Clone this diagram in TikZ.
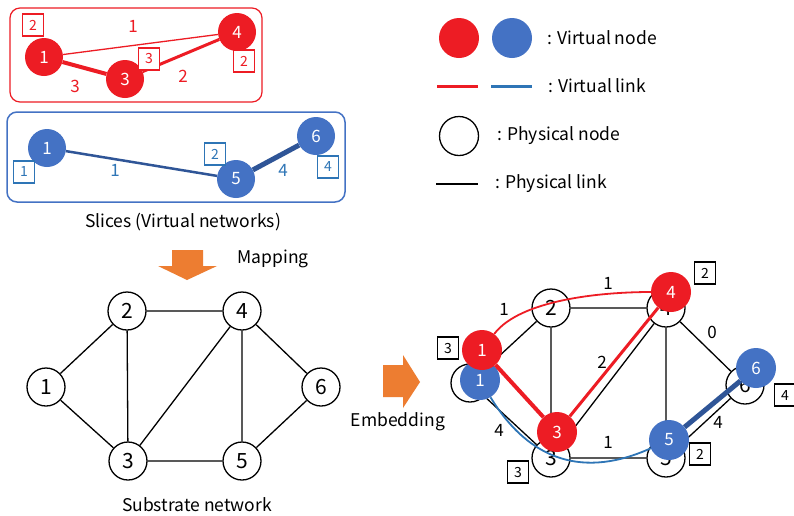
\documentclass[tikz,border=0pt]{standalone}
\usepackage{fontspec}
\setmainfont{Noto Sans CJK JP}
\newcommand\fsz[1]{\fontsize{#1}{#1}\selectfont}
\definecolor{vred}{RGB}{237,28,36}
\definecolor{vblue}{RGB}{68,114,196}
\definecolor{lblue}{RGB}{46,117,182}
\definecolor{dblue}{RGB}{47,85,151}
\definecolor{aorange}{RGB}{237,125,49}
\tikzset{
  vnode/.style={circle, minimum size=38pt, inner sep=0pt, text=white, font=\fsz{17}},
  pnode/.style={circle, draw, line width=1.3pt, fill=white, minimum size=38pt, inner sep=0pt, font=\fsz{21}},
  sqbox/.style={draw, fill=white, minimum width=21pt, minimum height=22pt, inner sep=0pt, font=\fsz{14}},
  lbl/.style={font=\fsz{17}, inner sep=1pt},
  txt/.style={font=\fsz{17.5}, inner sep=0pt},
  plink/.style={line width=1.3pt, black},
}
\begin{document}
\begin{tikzpicture}[x=1pt,y=-1pt]
\useasboundingbox (0,0) rectangle (794,515);
\fill[white] (0,0) rectangle (794,515);

% ---------- red slice ----------
\draw[vred, line width=1.2pt, rounded corners=10pt] (10,8) rectangle (262,102);
\node[vnode, fill=vred] (r1) at (44,57) {1};
\node[vnode, fill=vred] (r3) at (125,79) {3};
\node[vnode, fill=vred] (r4) at (237,32) {4};
\draw[vred, line width=1.3pt] (r1) -- (r4);
\draw[vred, line width=4pt] (r1) -- (r3);
\draw[vred, line width=3pt] (r3) -- (r4);
\node[lbl, text=vred] (rl1) at (133,26) {1};
\node[lbl, text=vred] (rl2) at (75,86) {3};
\node[lbl, text=vred] (rl3) at (183,76) {2};
\node[sqbox, draw=vred, text=vred, line width=1.3pt] (rs1) at (33,25) {2};
\node[sqbox, draw=vred, text=vred, line width=1.3pt] (rs2) at (149,59) {3};
\node[sqbox, draw=vred, text=vred, line width=1.3pt] (rs3) at (244,61) {2};

% ---------- blue slice ----------
\draw[vblue, line width=1.5pt, rounded corners=10pt] (7,112) rectangle (345,202);
\node[vnode, fill=vblue] (b1) at (47,148) {1};
\node[vnode, fill=vblue] (b5) at (236,179) {5};
\node[vnode, fill=vblue] (b6) at (316,136) {6};
\draw[dblue, line width=2.5pt] (b1) -- (b5);
\draw[dblue, line width=5pt] (b5) -- (b6);
\node[lbl, text=lblue] (bl1) at (115,170) {1};
\node[lbl, text=lblue] (bl2) at (283,170) {4};
\node[sqbox, draw=lblue, text=lblue, line width=1.3pt] (bs1) at (24,172) {1};
\node[sqbox, draw=lblue, text=lblue, line width=1.3pt] (bs2) at (215,154) {2};
\node[sqbox, draw=lblue, text=lblue, line width=1.3pt] (bs3) at (328,167) {4};
\node[txt] (cap1) at (183,222) {Slices (Virtual networks)};

% ---------- legend ----------
\node[circle, fill=vred, minimum size=40pt, inner sep=0pt] (lgr) at (459,38) {};
\node[circle, fill=vblue, minimum size=40pt, inner sep=0pt] (lgb) at (512,38) {};
\node[txt, anchor=west] (lgt1) at (547,38) {: Virtual node};
\coordinate (lr1) at (437,86); \coordinate (lr2) at (478,86);
\coordinate (lb1) at (491,86); \coordinate (lb2) at (532,86);
\draw[vred, line width=3pt] (lr1) -- (lr2);
\draw[lblue, line width=3pt] (lb1) -- (lb2);
\node[txt, anchor=west] (lgt2) at (548,86) {: Virtual link};
\node[circle, draw, line width=1.3pt, minimum size=39pt, inner sep=0pt] (lgp) at (459,136) {};
\node[txt, anchor=west] (lgt3) at (497,136) {: Physical node};
\coordinate (lp1) at (436,184); \coordinate (lp2) at (478,184);
\draw[plink] (lp1) -- (lp2);
\node[txt, anchor=west] (lgt4) at (495,184) {: Physical link};

% ---------- mapping arrow ----------
\fill[aorange] (172,250) -- (203,250) -- (203,266) -- (217,266) -- (187,280) -- (158,266) -- (172,266) -- cycle;
\node[txt] (map) at (273,259) {Mapping};

% ---------- substrate ----------
\node[pnode] (s1) at (46,387) {1};
\node[pnode] (s2) at (127,311) {2};
\node[pnode] (s3) at (128,461) {3};
\node[pnode] (s4) at (242,311) {4};
\node[pnode] (s5) at (242,461) {5};
\node[pnode] (s6) at (321,387) {6};
\draw[plink] (s1) -- (s2) (s1) -- (s3) (s2) -- (s3) (s2) -- (s4) (s3) -- (s4)
  (s3) -- (s5) (s4) -- (s5) (s4) -- (s6) (s5) -- (s6);
\node[txt] (cap2) at (197,505) {Substrate network};

% ---------- embedding arrow ----------
\fill[aorange] (383,365) -- (403,365) -- (403,355) -- (420,382) -- (403,408) -- (403,397) -- (383,397) -- cycle;
\node[txt] (emb) at (398,422) {Embedding};

% ---------- embedded ----------
\node[pnode] (e1) at (470,383) {1};
\node[pnode] (e2) at (551,308) {2};
\node[pnode] (e3) at (551,458) {3};
\node[pnode] (e4) at (666,308) {4};
\node[pnode] (e5) at (666,458) {5};
\node[pnode] (e6) at (745,385) {6};
\draw[plink] (e1) -- (e2) (e1) -- (e3) (e2) -- (e3) (e2) -- (e4) (e3) -- (e4)
  (e3) -- (e5) (e4) -- (e5) (e4) -- (e6) (e5) -- (e6);

\node[vnode, fill=vblue, minimum size=40pt] (eb1) at (480,380) {1};
\node[vnode, fill=vred, minimum size=40pt] (er1) at (482,350) {1};
\node[vnode, fill=vred, minimum size=40pt] (er3) at (557,432) {3};
\node[vnode, fill=vred, minimum size=40pt] (er4) at (671,292) {4};
\node[vnode, fill=vblue, minimum size=40pt] (eb5) at (669,440) {5};
\node[vnode, fill=vblue, minimum size=40pt] (eb6) at (756,368) {6};

\draw[vred, line width=1.8pt] (er1) .. controls (520,300) and (600,292) .. (er4);
\draw[vred, line width=4pt] (er1) -- (er3);
\draw[vred, line width=3pt] (er3) -- (er4);
\draw[lblue, line width=1.8pt] (eb1) .. controls (530,462) and (585,478) .. (eb5);
\draw[dblue, line width=5pt] (eb5) -- (eb6);

\node[lbl] (el1) at (504,309) {1};
\node[lbl] (el2) at (608,283) {1};
\node[lbl] (el3) at (602,362) {2};
\node[lbl] (el4) at (712,332) {0};
\node[lbl] (el5) at (499,430) {4};
\node[lbl] (el6) at (608,442) {1};
\node[lbl] (el7) at (718,422) {4};

\node[sqbox, line width=1.8pt] (es1) at (448,348) {3};
\node[sqbox, line width=1.8pt] (es2) at (705,273) {2};
\node[sqbox, line width=1.8pt] (es3) at (785,395) {4};
\node[sqbox, line width=1.8pt] (es4) at (700,454) {2};
\node[sqbox, line width=1.8pt] (es5) at (518,472) {3};
\end{tikzpicture}
\end{document}
